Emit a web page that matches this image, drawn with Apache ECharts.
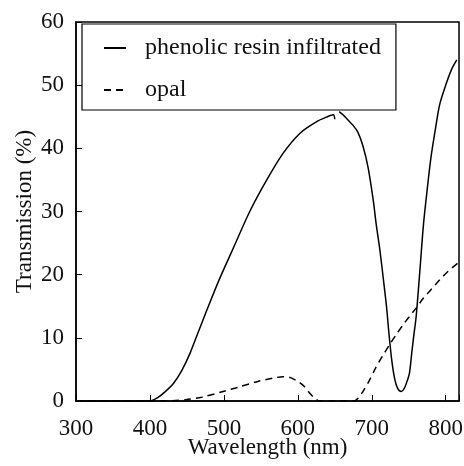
<!DOCTYPE html>
<html>
<head>
<meta charset="utf-8">
<script src="https://cdn.jsdelivr.net/npm/echarts@6/dist/echarts.min.js"></script>
<style>html,body{margin:0;padding:0;background:#fff}#c{width:464px;height:466px}</style>
</head>
<body>
<div id="c"></div>
<script>
// Phenolic resin infiltrated (solid) - wavelength (nm) / transmission (%)
var resinWl = [300, 400, 410, 420, 432, 443, 454, 465, 477, 494, 512, 535, 558, 580, 603, 625, 640, 648, 650, null, 656, 663, 670, 675, 681, 688, 695, 702, 706, 711, 716, 720, 723, 727, 731, 735, 740, 744, 748, 751, 754, 757, 760, 765, 770, 775, 780, 786, 792, 800, 808, 815];
var resinT  = [0, 0, 0.5, 1.4, 2.8, 4.8, 7.5, 10.8, 14.4, 19.3, 24.0, 30.0, 35.0, 39.2, 42.4, 44.2, 45.0, 45.3, 44.6, null, 45.8, 45.1, 44.2, 43.6, 42.6, 40.4, 37.0, 31.8, 28.0, 23.9, 19.0, 14.9, 11.0, 6.5, 3.5, 2.0, 1.5, 2.0, 3.2, 4.4, 7.5, 10.5, 13.3, 20.5, 28.0, 33.5, 38.5, 43.0, 47.0, 50.0, 52.5, 54.0];
// Opal (dashed)
var opalWl = [300, 400, 430, 448, 470, 499, 520, 546, 566, 580, 590, 600, 608, 615, 623, 630, 675, 682, 688, 697, 706, 715, 724, 733, 742, 751, 760, 770, 780, 792, 803, 816];
var opalT  = [0, 0, 0.05, 0.2, 0.6, 1.5, 2.2, 3.1, 3.6, 3.85, 3.7, 3.1, 2.4, 1.4, 0.4, 0, 0, 0.5, 1.5, 3.3, 5.4, 7.2, 8.9, 10.5, 12.0, 13.4, 14.7, 16.3, 17.6, 19.2, 20.5, 21.8];
var seriesNames = ['phenolic resin infiltrated', 'opal'];
var xTicks = [300, 400, 500, 600, 700, 800];
var yTicks = [0, 10, 20, 30, 40, 50, 60];

function pairs(xs, ys) {
  return xs.map(function (x, i) { return x === null ? [null, null] : [x, ys[i]]; });
}
var font = 'Liberation Serif';
var chart = echarts.init(document.getElementById('c'), null, {renderer: 'canvas'});
chart.setOption({
  animation: false,
  backgroundColor: '#fff',
  grid: {left: 76, right: 5, top: 22, bottom: 65, containLabel: false, outerBoundsMode: 'none',
         show: true, borderColor: '#000', borderWidth: 1.5, backgroundColor: 'transparent'},
  legend: {
    orient: 'vertical', left: 82, top: 24,
    data: seriesNames,
    itemWidth: 22, itemHeight: 14, itemGap: 18,
    padding: [12, 15, 8, 21],
    borderColor: '#000', borderWidth: 1.2,
    itemStyle: {opacity: 0},
    textStyle: {fontFamily: font, fontSize: 24, color: '#111', padding: [0, 0, 0, 14]}
  },
  xAxis: {
    type: 'value', min: xTicks[0], max: 818, interval: 100,
    name: 'Wavelength (nm)', nameLocation: 'middle', nameGap: 35, nameMoveOverlap: false,
    nameTextStyle: {fontFamily: font, fontSize: 23, color: '#111'},
    axisLine: {show: true, onZero: false, lineStyle: {color: '#000', width: 1.5}},
    axisTick: {show: true, inside: true, length: 6, lineStyle: {color: '#000', width: 1}},
    axisLabel: {fontFamily: font, fontSize: 23, color: '#111', margin: 16,
      formatter: function (v) { return xTicks.indexOf(v) >= 0 ? String(v) : ''; }},
    splitLine: {show: false}
  },
  yAxis: {
    type: 'value', min: yTicks[0], max: yTicks[yTicks.length - 1], interval: 10,
    name: 'Transmission (%)', nameLocation: 'middle', nameGap: 40, nameMoveOverlap: false,
    nameTextStyle: {fontFamily: font, fontSize: 23, color: '#111'},
    axisLine: {show: true, lineStyle: {color: '#000', width: 1.5}},
    axisTick: {show: true, inside: true, length: 6, lineStyle: {color: '#000', width: 1}},
    axisLabel: {fontFamily: font, fontSize: 23, color: '#111', margin: 12},
    splitLine: {show: false}
  },
  series: [
    {name: seriesNames[0], type: 'line', data: pairs(resinWl, resinT), smooth: 0.3, showSymbol: false, symbol: 'none', connectNulls: false,
     lineStyle: {color: '#000', width: 1.5}, itemStyle: {color: '#000'}},
    {name: seriesNames[1], type: 'line', data: pairs(opalWl, opalT), smooth: 0.3, showSymbol: false, symbol: 'none',
     lineStyle: {color: '#000', width: 1.5, type: [7, 5]}, itemStyle: {color: '#000'}}
  ]
});
</script>
</body>
</html>
